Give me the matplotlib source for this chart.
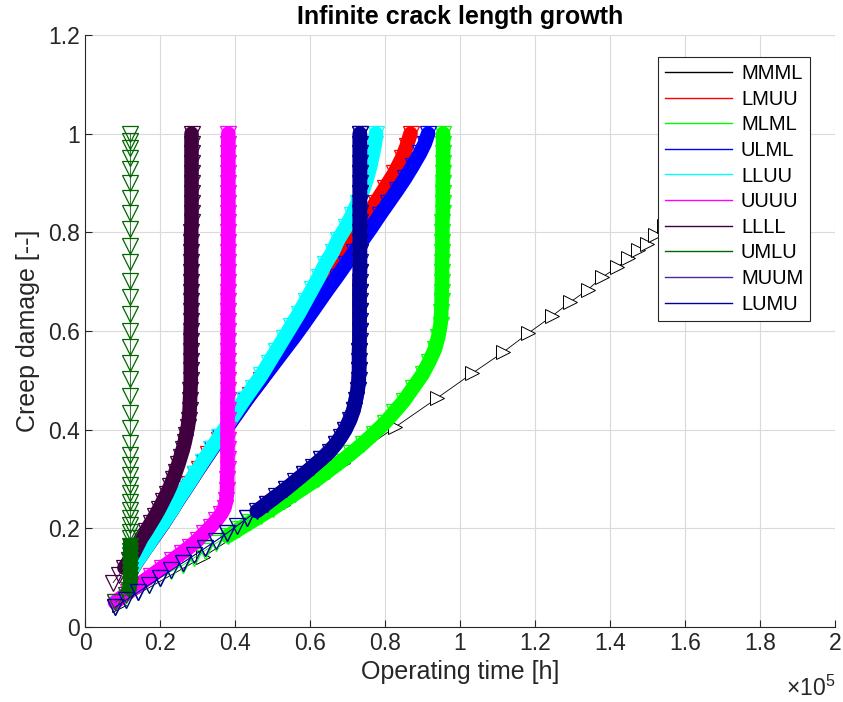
import matplotlib
matplotlib.use("Agg")
import matplotlib.pyplot as plt
from matplotlib.lines import Line2D
from matplotlib.ticker import FuncFormatter, MultipleLocator

plt.rcParams['font.family'] = ['Liberation Sans', 'DejaVu Sans']
plt.rcParams['mathtext.fontset'] = 'custom'
plt.rcParams['mathtext.rm'] = 'Liberation Sans'

# operating time in units of 1e5 h, creep damage [-]
labels = ['MMML', 'LMUU', 'MLML', 'ULML', 'LLUU', 'UUUU', 'LLLL', 'UMLU', 'MUUM', 'LUMU']

mmml_t = [0.09, 0.315, 0.528, 0.688, 0.827, 0.939, 1.032, 1.115, 1.181, 1.245, 1.293, 1.341, 1.379,
          1.419, 1.448, 1.475, 1.499, 1.520, 1.545, 1.570, 1.600, 1.630, 1.660, 1.690, 1.720, 1.750]
mmml_d = [0.045, 0.142, 0.247, 0.332, 0.405, 0.464, 0.514, 0.557, 0.595, 0.630, 0.658, 0.684, 0.709,
          0.729, 0.747, 0.765, 0.777, 0.794, 0.812, 0.830, 0.852, 0.874, 0.900, 0.930, 0.962, 1.000]

lmuu_t = [0.12, 0.145, 0.172, 0.2, 0.226, 0.251, 0.277, 0.303, 0.329, 0.356,
          0.384, 0.412, 0.44, 0.47, 0.498, 0.527, 0.555, 0.582, 0.607, 0.632,
          0.657, 0.68, 0.705, 0.728, 0.75, 0.775, 0.8, 0.825, 0.845, 0.858, 0.868]
lmuu_d = [0.11, 0.14, 0.17, 0.2, 0.23, 0.26, 0.29, 0.32, 0.35, 0.38,
          0.41, 0.44, 0.47, 0.5, 0.53, 0.56, 0.59, 0.62, 0.65, 0.68,
          0.71, 0.74, 0.77, 0.8, 0.83, 0.86, 0.89, 0.92, 0.95, 0.975, 1.0]

mlml_t = [0.08, 0.11, 0.14, 0.17, 0.2, 0.23, 0.26, 0.29, 0.32, 0.35,
          0.38, 0.41, 0.44, 0.47, 0.5, 0.53, 0.56, 0.59, 0.62, 0.65,
          0.68, 0.71, 0.74, 0.77, 0.8, 0.825, 0.85, 0.875, 0.9, 0.918,
          0.933, 0.942, 0.948, 0.95,
          0.951, 0.951, 0.952, 0.952, 0.952, 0.953, 0.953, 0.953, 0.953,
          0.954, 0.954, 0.954, 0.954, 0.955, 0.955, 0.955, 0.955, 0.955]
mlml_d = [0.04, 0.055, 0.07, 0.085, 0.1, 0.113, 0.125, 0.14, 0.155, 0.17,
          0.184, 0.198, 0.212, 0.226, 0.24, 0.255, 0.27, 0.285, 0.3, 0.317,
          0.334, 0.352, 0.371, 0.392, 0.414, 0.436, 0.458, 0.485, 0.512, 0.538,
          0.563, 0.588, 0.613, 0.638,
          0.66, 0.68, 0.70, 0.72, 0.74, 0.76, 0.78, 0.80, 0.82,
          0.84, 0.86, 0.88, 0.90, 0.92, 0.94, 0.96, 0.98, 1.00]

ulml_t = [0.12, 0.14, 0.163, 0.186, 0.209, 0.23, 0.251, 0.273, 0.294, 0.316,
          0.338, 0.361, 0.384, 0.407, 0.43, 0.455, 0.48, 0.505, 0.53, 0.555,
          0.579, 0.602, 0.625, 0.648, 0.672, 0.695, 0.718, 0.741, 0.764, 0.786,
          0.809, 0.832, 0.854, 0.874, 0.893, 0.906, 0.915]
ulml_d = [0.11, 0.135, 0.16, 0.185, 0.21, 0.235, 0.26, 0.285, 0.31, 0.335,
          0.36, 0.385, 0.41, 0.435, 0.46, 0.485, 0.51, 0.535, 0.56, 0.585,
          0.61, 0.635, 0.66, 0.685, 0.71, 0.735, 0.76, 0.785, 0.81, 0.835,
          0.86, 0.885, 0.91, 0.935, 0.96, 0.98, 1.0]

lluu_t = [0.12, 0.14, 0.163, 0.185, 0.208, 0.23, 0.25, 0.272, 0.293, 0.314,
          0.336, 0.358, 0.38, 0.402, 0.424, 0.447, 0.47, 0.49, 0.51, 0.53,
          0.55, 0.57, 0.588, 0.606, 0.624, 0.64, 0.66, 0.675, 0.695, 0.712,
          0.727, 0.741, 0.752, 0.761, 0.768, 0.773, 0.776]
lluu_d = [0.11, 0.135, 0.16, 0.185, 0.21, 0.235, 0.26, 0.285, 0.31, 0.335,
          0.36, 0.385, 0.41, 0.435, 0.46, 0.485, 0.51, 0.535, 0.56, 0.585,
          0.61, 0.635, 0.66, 0.685, 0.71, 0.735, 0.76, 0.785, 0.81, 0.835,
          0.86, 0.885, 0.91, 0.935, 0.96, 0.98, 1.0]

uuuu_t = [0.08, 0.115, 0.145, 0.175, 0.205, 0.232, 0.258, 0.28, 0.3, 0.318,
          0.335, 0.35, 0.363, 0.372, 0.377, 0.379,
          0.379, 0.380, 0.380, 0.380, 0.380, 0.380,
          0.380, 0.380, 0.380, 0.381, 0.381, 0.381,
          0.381, 0.381, 0.381, 0.381, 0.381, 0.381,
          0.381, 0.381, 0.382, 0.382, 0.382, 0.382,
          0.382, 0.382, 0.382, 0.382, 0.382, 0.382,
          0.382, 0.382, 0.382, 0.382, 0.382, 0.382]
uuuu_d = [0.05, 0.07, 0.087, 0.103, 0.12, 0.135, 0.15, 0.163, 0.176, 0.19,
          0.203, 0.216, 0.229, 0.242, 0.258, 0.278,
          0.30, 0.32, 0.34, 0.36, 0.38, 0.40,
          0.42, 0.44, 0.46, 0.48, 0.50, 0.52,
          0.54, 0.56, 0.58, 0.60, 0.62, 0.64,
          0.66, 0.68, 0.70, 0.72, 0.74, 0.76,
          0.78, 0.80, 0.82, 0.84, 0.86, 0.88,
          0.90, 0.92, 0.94, 0.96, 0.98, 1.00]

llll_t = [0.075, 0.09, 0.105, 0.118, 0.13, 0.14, 0.15, 0.163, 0.175, 0.187,
          0.198, 0.208, 0.218, 0.227, 0.235, 0.242, 0.249, 0.255, 0.261, 0.266,
          0.27, 0.274, 0.277, 0.279, 0.28, 0.281,
          0.282, 0.282, 0.282, 0.282, 0.282, 0.282, 0.283, 0.283, 0.283,
          0.283, 0.283, 0.283, 0.283, 0.283, 0.283, 0.283, 0.284, 0.284,
          0.284, 0.284, 0.284, 0.284, 0.284, 0.284, 0.284, 0.284]
llll_d = [0.09, 0.105, 0.12, 0.135, 0.15, 0.165, 0.18, 0.195, 0.21, 0.225,
          0.24, 0.255, 0.27, 0.285, 0.3, 0.315, 0.33, 0.345, 0.36, 0.375,
          0.39, 0.405, 0.42, 0.44, 0.46, 0.48,
          0.50, 0.52, 0.54, 0.56, 0.58, 0.60, 0.62, 0.64, 0.66,
          0.68, 0.70, 0.72, 0.74, 0.76, 0.78, 0.80, 0.82, 0.84,
          0.86, 0.88, 0.90, 0.92, 0.94, 0.96, 0.98, 1.00]

umlu_t = [0.08, 0.11, 0.118, 0.12, 0.121, 0.121, 0.121, 0.121, 0.121, 0.121,
          0.121, 0.121, 0.121, 0.121, 0.121, 0.121, 0.121, 0.121, 0.121, 0.121,
          0.121, 0.121, 0.121, 0.121, 0.121, 0.121, 0.121, 0.121, 0.121, 0.121,
          0.121, 0.121, 0.121, 0.121, 0.121, 0.121, 0.121, 0.121, 0.121, 0.121,
          0.121, 0.121, 0.121, 0.121, 0.121]
umlu_d = [0.05, 0.065, 0.075, 0.085, 0.095, 0.105, 0.115, 0.125, 0.135, 0.145,
          0.155, 0.165, 0.18, 0.192, 0.206, 0.221, 0.237, 0.253, 0.271, 0.287,
          0.308, 0.328, 0.348, 0.372, 0.403, 0.434, 0.468, 0.502, 0.536, 0.567,
          0.601, 0.635, 0.668, 0.702, 0.739, 0.773, 0.807, 0.840, 0.870, 0.901,
          0.929, 0.951, 0.970, 0.986, 1.0]

muum_t = [0.08, 0.14, 0.2, 0.26, 0.32, 0.378, 0.432, 0.484, 0.536, 0.584,
          0.63, 0.668, 0.694, 0.716, 0.727, 0.731, 0.731, 0.732, 0.732,
          0.732, 0.733, 0.733, 0.733, 0.733, 0.733, 0.733, 0.733]
muum_d = [0.04, 0.07, 0.1, 0.13, 0.16, 0.19, 0.22, 0.25, 0.28, 0.31,
          0.34, 0.37, 0.4, 0.44, 0.48, 0.52, 0.56, 0.6, 0.64,
          0.68, 0.72, 0.76, 0.8, 0.84, 0.88, 0.92, 1.0]

lumu_t = [0.08, 0.11, 0.14, 0.17, 0.2, 0.23, 0.26, 0.29, 0.32, 0.35,
          0.378, 0.405, 0.432, 0.458, 0.484, 0.51, 0.536, 0.56, 0.584, 0.607,
          0.63, 0.652, 0.668, 0.682, 0.694, 0.707, 0.716, 0.722, 0.727, 0.73,
          0.731, 0.731, 0.731, 0.732, 0.732, 0.732, 0.732, 0.732, 0.732,
          0.732, 0.733, 0.733, 0.733, 0.733, 0.733, 0.733, 0.733, 0.733,
          0.733, 0.733, 0.733, 0.733, 0.733, 0.733, 0.733]
lumu_d = [0.04, 0.055, 0.07, 0.085, 0.1, 0.115, 0.13, 0.145, 0.16, 0.175,
          0.19, 0.205, 0.22, 0.235, 0.25, 0.265, 0.28, 0.295, 0.31, 0.325,
          0.34, 0.355, 0.37, 0.385, 0.4, 0.42, 0.44, 0.46, 0.48, 0.5,
          0.52, 0.54, 0.56, 0.58, 0.60, 0.62, 0.64, 0.66, 0.68,
          0.70, 0.72, 0.74, 0.76, 0.78, 0.80, 0.82, 0.84, 0.86,
          0.88, 0.90, 0.92, 0.94, 0.96, 0.98, 1.00]

times = [mmml_t, lmuu_t, mlml_t, ulml_t, lluu_t, uuuu_t, llll_t, umlu_t, muum_t, lumu_t]
damages = [mmml_d, lmuu_d, mlml_d, ulml_d, lluu_d, uuuu_d, llll_d, umlu_d, muum_d, lumu_d]

colors = ['k', (1, 0, 0), (0, 1, 0), (0, 0, 1), (0, 1, 1), (1, 0, 1),
          (0.25, 0, 0.25), (0, 0.4, 0), (0.3, 0.15, 0.65), (0, 0, 0.6)]

# index range where the time steps get so small that the markers merge into a band
dense = {'LMUU': (0, None), 'MLML': (10, None), 'ULML': (0, None), 'LLUU': (0, None),
         'UUUU': (0, None), 'LLLL': (2, None), 'UMLU': (1, 13), 'MUUM': (7, None),
         'LUMU': (13, None)}

fig = plt.figure(figsize=(8.43, 7.02), dpi=100)
ax = fig.add_axes([85 / 843, 1 - 627 / 702, 750 / 843, 592 / 702])

for lab, t, d, c in zip(labels, times, damages, colors):
    if lab == 'MMML':
        ax.plot(t, d, color=c, lw=0.6, marker='>', ms=10, mfc='white', mec=c, mew=0.7)
        continue
    i0, i1 = dense[lab]
    cap = 'butt' if lab == 'UMLU' else 'round'
    ax.plot(t[i0:i1], d[i0:i1], color=c, lw=10.5, solid_capstyle=cap,
            solid_joinstyle='round')
    ax.plot(t, d, color=c, lw=0.6, marker='v', ms=12, mfc='none', mec=c, mew=0.9)

ax.set_xlim(0, 2)
ax.set_ylim(0, 1.2)
ax.xaxis.set_major_locator(MultipleLocator(0.2))
ax.yaxis.set_major_locator(MultipleLocator(0.2))
fmt = FuncFormatter(lambda v, p: '%g' % round(v, 3))
ax.xaxis.set_major_formatter(fmt)
ax.yaxis.set_major_formatter(fmt)

ax.spines['top'].set_visible(False)
ax.spines['right'].set_visible(False)
for s in ['left', 'bottom']:
    ax.spines[s].set_color('#262626')
    ax.spines[s].set_linewidth(0.8)
ax.tick_params(direction='in', length=5, width=0.8, colors='#262626', labelsize=16.5,
               top=False, right=False)
ax.grid(True, color='#dadada', lw=0.8)
ax.set_axisbelow(True)

ax.set_xlabel('Operating time [h]', fontsize=18, color='#262626', labelpad=4)
ax.set_ylabel('Creep damage [--]', fontsize=18, color='#262626', labelpad=6)
ax.set_title('Infinite crack length growth', fontsize=18, fontweight='bold', pad=8)
ax.text(1.0, -0.103, r'$\mathregular{\times10^{5}}$', transform=ax.transAxes,
        ha='right', va='center', fontsize=16.5, color='#262626')

handles = [Line2D([0], [0], color=c, lw=1.0) for c in colors]
leg = ax.legend(handles, labels, loc='upper right', bbox_to_anchor=(0.967, 0.963),
                borderaxespad=0, fontsize=14.5, fancybox=False, framealpha=1,
                edgecolor='#262626', handlelength=3.3, handletextpad=0.45,
                labelspacing=0.33, borderpad=0.35)
leg.get_frame().set_linewidth(0.8)

fig.savefig('out.png', dpi=100)
